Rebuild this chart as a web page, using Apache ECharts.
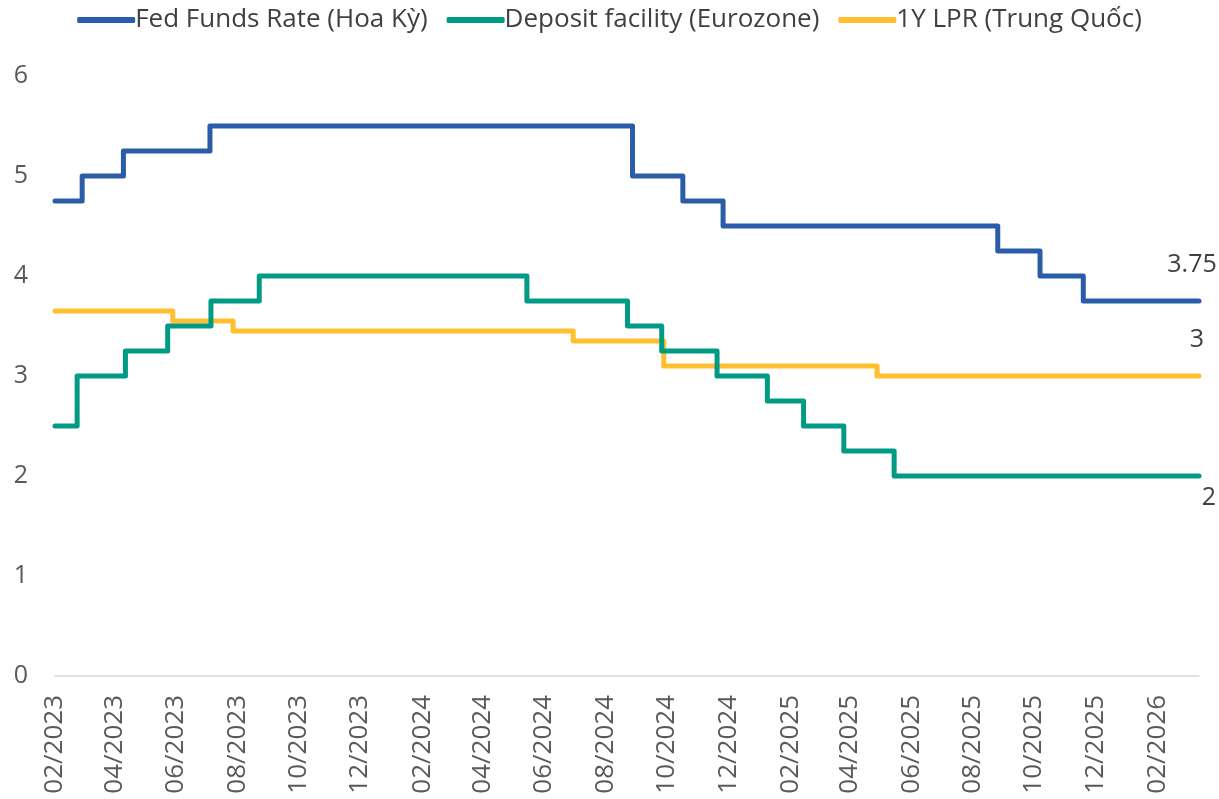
<!DOCTYPE html>
<html>
<head>
<meta charset="utf-8">
<script src="https://cdn.jsdelivr.net/npm/echarts@6/dist/echarts.min.js"></script>
<style>html,body{margin:0;padding:0;background:#fff}#c{width:1219px;height:799px}</style>
</head>
<body>
<div id="c"></div>
<script>
// Change dates and new rate levels (step holds until next change)
const fedDates = ['2023-02-24','2023-03-23','2023-05-03','2023-07-28','2024-09-20','2024-11-09','2024-12-19','2025-09-18','2025-10-30','2025-12-12','2026-04-06'];
const fedValues = [4.75, 5.00, 5.25, 5.50, 5.00, 4.75, 4.50, 4.25, 4.00, 3.75, 3.75];

const ecbDates = ['2023-02-24','2023-03-18','2023-05-05','2023-06-16','2023-07-29','2023-09-15','2024-06-07','2024-09-15','2024-10-19','2024-12-13','2025-02-01','2025-03-09','2025-04-18','2025-06-07','2026-04-06'];
const ecbValues = [2.50, 3.00, 3.25, 3.50, 3.75, 4.00, 3.75, 3.50, 3.25, 3.00, 2.75, 2.50, 2.25, 2.00, 2.00];

const lprDates = ['2023-02-24','2023-06-21','2023-08-20','2024-07-23','2024-10-21','2025-05-21','2026-04-06'];
const lprValues = [3.65, 3.55, 3.45, 3.35, 3.10, 3.00, 3.00];

const seriesNames = ['Fed Funds Rate (Hoa Kỳ)', 'Deposit facility (Eurozone)', '1Y LPR (Trung Quốc)'];
const endLabels = ['3.75', '2', '3'];

const xTickDates = ['2023-02-24','2023-04-24','2023-06-24','2023-08-24','2023-10-24','2023-12-24','2024-02-24','2024-04-24','2024-06-24','2024-08-24','2024-10-24','2024-12-24','2025-02-24','2025-04-24','2025-06-24','2025-08-24','2025-10-24','2025-12-24','2026-02-24'];
const xMinDate = '2023-02-24';
const xMaxDate = '2026-04-06';
const yTicks = [0, 1, 2, 3, 4, 5, 6];

function ts(s){ const p = s.split('-').map(Number); return Date.UTC(p[0], p[1]-1, p[2]); }
function fmt(v){ const d = new Date(v); const m = d.getUTCMonth()+1; return (m<10?'0':'')+m+'/'+d.getUTCFullYear(); }
function pairs(dates, vals){ return dates.map((d,i)=>[ts(d), vals[i]]); }

const FONT = 'Open Sans';
const colors = ['#2A5CAA', '#009A85', '#FFBF2E'];
const labelOffsets = [[-7,-36],[10,22],[-2,-36]];
const datasets = [pairs(fedDates, fedValues), pairs(ecbDates, ecbValues), pairs(lprDates, lprValues)];

const chart = echarts.init(document.getElementById('c'), null, {renderer:'canvas'});
chart.setOption({
  animation: false,
  color: colors,
  textStyle: {fontFamily: FONT},
  legend: {
    top: 2, left: 'center',
    itemWidth: 58, itemHeight: 6, itemGap: 19,
    icon: 'roundRect',
    textStyle: {fontSize: 26, color: '#404040', fontFamily: FONT, padding: [0,0,0,-5]},
    data: seriesNames
  },
  grid: {left: 55, right: 20, top: 76, bottom: 123, containLabel: false},
  xAxis: {
    type: 'value',
    min: ts(xMinDate), max: ts(xMaxDate),
    axisLine: {show: true, lineStyle: {color: '#D9D9D9', width: 1.5}},
    axisTick: {show: false},
    splitLine: {show: false},
    axisLabel: {
      customValues: xTickDates.map(ts),
      formatter: fmt,
      rotate: 90, margin: 19,
      fontSize: 26, color: '#595959', fontFamily: FONT
    }
  },
  yAxis: {
    type: 'value', min: yTicks[0], max: yTicks[yTicks.length-1], interval: 1,
    axisLine: {show: false}, axisTick: {show: false},
    splitLine: {show: false},
    axisLabel: {fontSize: 25, color: '#595959', margin: 27, fontFamily: FONT}
  },
  series: datasets.map((data, i) => ({
    name: seriesNames[i],
    type: 'line',
    step: 'end',
    data: data,
    showSymbol: false, symbol: 'none',
    lineStyle: {width: 5, color: colors[i], join: 'round', cap: 'round'},
    itemStyle: {color: colors[i]},
    endLabel: {
      show: true, formatter: endLabels[i],
      distance: 0, align: 'center', verticalAlign: 'middle',
      offset: labelOffsets[i],
      fontSize: 25, color: '#404040', fontFamily: FONT
    },
    z: 3 - i
  }))
});
</script>
</body>
</html>
